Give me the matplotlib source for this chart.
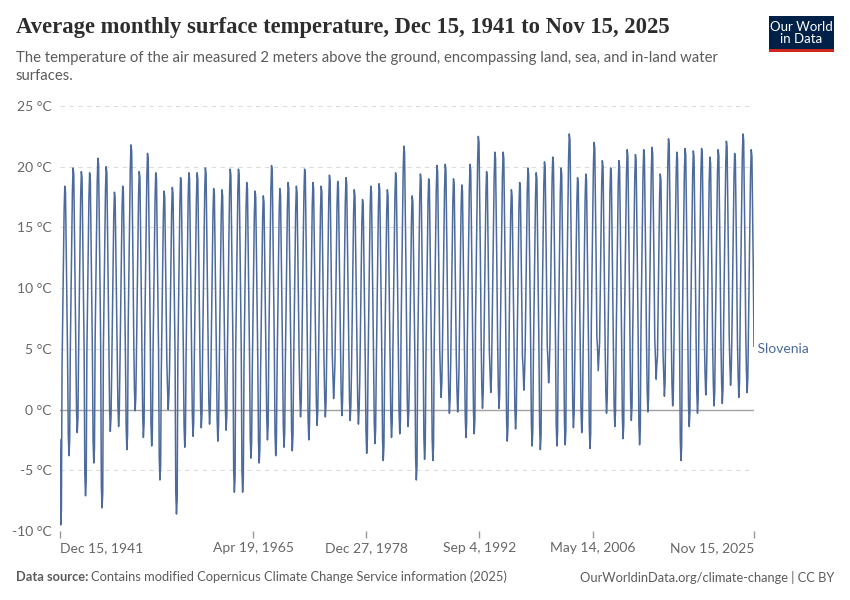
import matplotlib.pyplot as plt
import pandas as pd
from matplotlib.patches import Rectangle

country = 'Slovenia'
first_month = '1941-12-15'

# monthly mean surface temperature (°C), Dec 1941 .. Nov 2025
t_1940s = [
    -2.5,
    -9.5, -8.3, 3.4, 7.9, 12.4, 16.4, 18.4, 17.9, 13.4, 8.4, 4.2, -2.0,
    -3.8, -2.6, 4.9, 9.4, 13.9, 17.9, 19.9, 19.4, 14.9, 9.9, 5.0, -0.1,
    -1.9, -0.7, 4.6, 9.1, 13.6, 17.6, 19.6, 19.1, 14.6, 9.6, 4.8, -5.3,
    -7.1, -5.9, 4.5, 9.0, 13.5, 17.5, 19.5, 19.0, 14.5, 9.5, 4.8, -2.6,
    -4.4, -3.2, 5.7, 10.2, 14.7, 18.7, 20.7, 20.2, 15.7, 10.7, 5.4, -6.3,
    -8.1, -6.9, 5.0, 9.5, 14.0, 18.0, 20.0, 19.5, 15.0, 10.0, 5.0, 0.0,
    -1.8, -0.6, 2.9, 7.4, 11.9, 15.9, 17.9, 17.4, 12.9, 7.9, 4.0, 0.4,
    -1.4, -0.2, 3.4, 7.9, 12.4, 16.4, 18.4, 17.9, 13.4, 8.4, 4.2, -1.5,
]
t_1950s = [
    -3.3, -2.1, 6.8, 11.3, 15.8, 19.8, 21.8, 21.3, 16.8, 11.8, 5.9, 1.7,
    -0.1, 1.1, 4.6, 9.1, 13.6, 17.6, 19.6, 19.1, 14.6, 9.6, 4.8, -0.5,
    -2.3, -1.1, 6.1, 10.6, 15.1, 19.1, 21.1, 20.6, 16.1, 11.1, 5.6, -1.2,
    -3.0, -1.8, 4.5, 9.0, 13.5, 17.5, 19.5, 19.0, 14.5, 9.5, 4.8, -4.0,
    -5.8, -4.6, 3.0, 7.5, 12.0, 16.0, 18.0, 17.5, 13.0, 8.0, 4.0, 1.8,
    0.0, 1.2, 3.3, 7.8, 12.3, 16.3, 18.3, 17.8, 13.3, 8.3, 4.2, -6.8,
    -8.6, -7.4, 4.1, 8.6, 13.1, 17.1, 19.1, 18.6, 14.1, 9.1, 4.6, -1.3,
    -3.1, -1.9, 4.5, 9.0, 13.5, 17.5, 19.5, 19.0, 14.5, 9.5, 4.8, -0.4,
    -2.2, -1.0, 4.5, 9.0, 13.5, 17.5, 19.5, 19.0, 14.5, 9.5, 4.8, 0.3,
    -1.5, -0.3, 4.9, 9.4, 13.9, 17.9, 19.9, 19.4, 14.9, 9.9, 5.0, 0.6,
]
t_1960s = [
    -1.2, 0.0, 3.2, 7.7, 12.2, 16.2, 18.2, 17.7, 13.2, 8.2, 4.1, -0.8,
    -2.6, -1.4, 3.1, 7.6, 12.1, 16.1, 18.1, 17.6, 13.1, 8.1, 4.0, 0.1,
    -1.7, -0.5, 4.8, 9.3, 13.8, 17.8, 19.8, 19.3, 14.8, 9.8, 4.9, -5.0,
    -6.8, -5.6, 4.8, 9.3, 13.8, 17.8, 19.8, 19.3, 14.8, 9.8, 4.9, -5.0,
    -6.8, -5.6, 3.7, 8.2, 12.7, 16.7, 18.7, 18.2, 13.7, 8.7, 4.4, -2.2,
    -4.0, -2.8, 3.0, 7.5, 12.0, 16.0, 18.0, 17.5, 13.0, 8.0, 4.0, -2.6,
    -4.4, -3.2, 2.6, 7.1, 11.6, 15.6, 17.6, 17.1, 12.6, 7.6, 3.8, -0.7,
    -2.5, -1.3, 5.1, 9.6, 14.1, 18.1, 20.1, 19.6, 15.1, 10.1, 5.0, -2.0,
    -3.8, -2.6, 3.2, 7.7, 12.2, 16.2, 18.2, 17.7, 13.2, 8.2, 4.1, -1.3,
    -3.1, -1.9, 3.7, 8.2, 12.7, 16.7, 18.7, 18.2, 13.7, 8.7, 4.4, -1.6,
]
t_1970s = [
    -3.4, -2.2, 3.4, 7.9, 12.4, 16.4, 18.4, 17.9, 13.4, 8.4, 4.2, 1.2,
    -0.6, 0.6, 4.8, 9.3, 13.8, 17.8, 19.8, 19.3, 14.8, 9.8, 4.9, -0.7,
    -2.5, -1.3, 3.7, 8.2, 12.7, 16.7, 18.7, 18.2, 13.7, 8.7, 4.4, 0.5,
    -1.3, -0.1, 3.4, 7.9, 12.4, 16.4, 18.4, 17.9, 13.4, 8.4, 4.2, 1.2,
    -0.6, 0.6, 4.3, 8.8, 13.3, 17.3, 19.3, 18.8, 14.3, 9.3, 4.7, 2.7,
    0.9, 2.1, 3.8, 8.3, 12.8, 16.8, 18.8, 18.3, 13.8, 8.8, 4.4, 1.3,
    -0.5, 0.7, 4.1, 8.6, 13.1, 17.1, 19.1, 18.6, 14.1, 9.1, 4.6, 0.9,
    -0.9, 0.3, 3.1, 7.6, 12.1, 16.1, 18.1, 17.6, 13.1, 8.1, 4.0, 0.6,
    -1.2, 0.0, 2.3, 6.8, 11.3, 15.3, 17.3, 16.8, 12.3, 7.3, 3.6, -1.8,
    -3.6, -2.4, 3.4, 7.9, 12.4, 16.4, 18.4, 17.9, 13.4, 8.4, 4.2, -1.0,
]
t_1980s = [
    -2.8, -1.6, 3.6, 8.1, 12.6, 16.6, 18.6, 18.1, 13.6, 8.6, 4.3, -2.4,
    -4.2, -3.0, 3.1, 7.6, 12.1, 16.1, 18.1, 17.6, 13.1, 8.1, 4.0, -0.5,
    -2.3, -1.1, 4.5, 9.0, 13.5, 17.5, 19.5, 19.0, 14.5, 9.5, 4.8, -0.2,
    -2.0, -0.8, 6.7, 11.2, 15.7, 19.7, 21.7, 21.2, 16.7, 11.7, 5.9, 0.4,
    -1.4, -0.2, 2.6, 7.1, 11.6, 15.6, 17.6, 17.1, 12.6, 7.6, 3.8, -4.0,
    -5.8, -4.6, 4.4, 8.9, 13.4, 17.4, 19.4, 18.9, 14.4, 9.4, 4.7, -2.3,
    -4.1, -2.9, 4.0, 8.5, 13.0, 17.0, 19.0, 18.5, 14.0, 9.0, 4.5, -2.4,
    -4.2, -3.0, 5.1, 9.6, 14.1, 18.1, 20.1, 19.6, 15.1, 10.1, 5.0, 2.8,
    1.0, 2.2, 5.2, 9.7, 14.2, 18.2, 20.2, 19.7, 15.2, 10.2, 5.1, 1.5,
    -0.3, 0.9, 4.0, 8.5, 13.0, 17.0, 19.0, 18.5, 14.0, 9.0, 4.5, 1.6,
]
t_1990s = [
    -0.2, 1.0, 3.5, 8.0, 12.5, 16.5, 18.5, 18.0, 13.5, 8.5, 4.3, -0.5,
    -2.3, -1.1, 5.2, 9.7, 14.2, 18.2, 20.2, 19.7, 15.2, 10.2, 5.1, -0.2,
    -2.0, -0.8, 7.5, 12.0, 16.5, 20.5, 22.5, 22.0, 17.5, 12.5, 6.3, 1.9,
    0.1, 1.3, 4.6, 9.1, 13.6, 17.6, 19.6, 19.1, 14.6, 9.6, 4.8, 3.2,
    1.4, 2.6, 6.2, 10.7, 15.2, 19.2, 21.2, 20.7, 16.2, 11.2, 5.6, 1.9,
    0.1, 1.3, 6.2, 10.7, 15.2, 19.2, 21.2, 20.7, 16.2, 11.2, 5.6, -0.8,
    -2.6, -1.4, 3.1, 7.6, 12.1, 16.1, 18.1, 17.6, 13.1, 8.1, 4.0, 0.2,
    -1.6, -0.4, 3.7, 8.2, 12.7, 16.7, 18.7, 18.2, 13.7, 8.7, 4.4, 3.4,
    1.6, 2.8, 4.9, 9.4, 13.9, 17.9, 19.9, 19.4, 14.9, 9.9, 5.0, -1.2,
    -3.0, -1.8, 4.5, 9.0, 13.5, 17.5, 19.5, 19.0, 14.5, 9.5, 4.8, -1.5,
]
t_2000s = [
    -3.3, -2.1, 5.4, 9.9, 14.4, 18.4, 20.4, 19.9, 15.4, 10.4, 5.2, 4.0,
    2.2, 3.4, 5.8, 10.3, 14.8, 18.8, 20.8, 20.3, 15.8, 10.8, 5.4, -1.2,
    -3.0, -1.8, 4.9, 9.4, 13.9, 17.9, 19.9, 19.4, 14.9, 9.9, 5.0, -1.1,
    -2.9, -1.7, 7.7, 12.2, 16.7, 20.7, 22.7, 22.2, 17.7, 12.7, 6.4, 0.3,
    -1.5, -0.3, 4.1, 8.6, 13.1, 17.1, 19.1, 18.6, 14.1, 9.1, 4.6, -0.1,
    -1.9, -0.7, 4.4, 8.9, 13.4, 17.4, 19.4, 18.9, 14.4, 9.4, 4.7, -1.4,
    -3.2, -2.0, 7.0, 11.5, 16.0, 20.0, 22.0, 21.5, 17.0, 12.0, 6.0, 5.0,
    3.2, 4.4, 5.5, 10.0, 14.5, 18.5, 20.5, 20.0, 15.5, 10.5, 5.3, 1.5,
    -0.3, 0.9, 4.9, 9.4, 13.9, 17.9, 19.9, 19.4, 14.9, 9.9, 5.0, 0.4,
    -1.4, -0.2, 5.5, 10.0, 14.5, 18.5, 20.5, 20.0, 15.5, 10.5, 5.3, -0.6,
]
t_2010s = [
    -2.4, -1.2, 6.4, 10.9, 15.4, 19.4, 21.4, 20.9, 16.4, 11.4, 5.7, 0.9,
    -0.9, 0.3, 6.0, 10.5, 15.0, 19.0, 21.0, 20.5, 16.0, 11.0, 5.5, -1.1,
    -2.9, -1.7, 6.4, 10.9, 15.4, 19.4, 21.4, 20.9, 16.4, 11.4, 5.7, 1.6,
    -0.2, 1.0, 6.6, 11.1, 15.6, 19.6, 21.6, 21.1, 16.6, 11.6, 5.8, 4.3,
    2.5, 3.7, 4.4, 8.9, 13.4, 17.4, 19.4, 18.9, 14.4, 9.4, 4.7, 2.9,
    1.1, 2.3, 7.3, 11.8, 16.3, 20.3, 22.3, 21.8, 17.3, 12.3, 6.2, 2.1,
    0.3, 1.5, 6.2, 10.7, 15.2, 19.2, 21.2, 20.7, 16.2, 11.2, 5.6, -2.4,
    -4.2, -3.0, 6.5, 11.0, 15.5, 19.5, 21.5, 21.0, 16.5, 11.5, 5.8, 0.4,
    -1.4, -0.2, 6.3, 10.8, 15.3, 19.3, 21.3, 20.8, 16.3, 11.3, 5.7, 1.5,
    -0.3, 0.9, 6.5, 11.0, 15.5, 19.5, 21.5, 21.0, 16.5, 11.5, 5.8, 3.0,
]
t_2020s = [
    1.2, 2.4, 5.8, 10.3, 14.8, 18.8, 20.8, 20.3, 15.8, 10.8, 5.4, 2.1,
    0.3, 1.5, 6.4, 10.9, 15.4, 19.4, 21.4, 20.9, 16.4, 11.4, 5.7, 2.3,
    0.5, 1.7, 7.1, 11.6, 16.1, 20.1, 22.1, 21.6, 17.1, 12.1, 6.1, 3.8,
    2.0, 3.2, 6.1, 10.6, 15.1, 19.1, 21.1, 20.6, 16.1, 11.1, 5.6, 2.8,
    1.0, 2.2, 7.7, 12.2, 16.7, 20.7, 22.7, 22.2, 17.7, 12.7, 6.4, 3.2,
    1.4, 2.6, 6.4, 10.9, 15.4, 19.4, 21.4, 20.9, 16.4, 11.4, 5.2,
]

y_ticks = [-10, -5, 0, 5, 10, 15, 20, 25]
x_tick_dates = ['1941-12-15', '1965-04-19', '1978-12-27', '1992-09-04', '2006-05-14', '2025-11-15']
x_tick_labels = ['Dec 15, 1941', 'Apr 19, 1965', 'Dec 27, 1978', 'Sep 4, 1992', 'May 14, 2006', 'Nov 15, 2025']

temps = t_1940s + t_1950s + t_1960s + t_1970s + t_1980s + t_1990s + t_2000s + t_2010s + t_2020s
dates = pd.date_range(first_month, periods=len(temps), freq=pd.DateOffset(months=1))

W, H = 850, 600
blue = '#4c6a9c'
grey = '#5b5b5b'

fig = plt.figure(figsize=(8.5, 6), dpi=100)
ax = fig.add_axes([60 / W, 1 - 531 / H, (754 - 60) / W, (531 - 106) / H])

ax.plot(dates, temps, color=blue, lw=1.1, zorder=3)
ax.axhline(0, color='#a2a2a2', lw=1, zorder=2)

ax.set_ylim(-10, 25)
ax.set_xlim(dates[0], dates[-1])
ax.set_yticks(y_ticks)
ax.set_yticklabels([f'{v} °C' for v in y_ticks], fontfamily='Lato', fontsize=10, color='#666666')
ax.grid(axis='y', color='#dddddd', lw=0.8, linestyle=(0, (4, 4)))
ax.tick_params(axis='y', length=0, pad=6)

ax.set_xticks(pd.to_datetime(x_tick_dates))
ax.set_xticklabels(x_tick_labels, fontfamily='Lato', fontsize=10, color='#666666')
ax.tick_params(axis='x', length=5, color='#999999', width=1, pad=3)
lbls = ax.get_xticklabels()
lbls[0].set_ha('left')
lbls[-1].set_ha('right')

for s in ax.spines.values():
    s.set_visible(False)

ax.text(dates[-1], temps[-1] - 0.2, ' ' + country, color=blue, fontfamily='Lato',
        fontsize=10, va='center', ha='left', clip_on=False)

fig.text(16 / W, 1 - 28 / H, 'Average monthly surface temperature, Dec 15, 1941 to Nov 15, 2025',
         fontfamily='Liberation Serif', fontweight='bold', fontsize=16.3, color='#2d2d2d', va='center')
fig.text(16 / W, 1 - 67 / H,
         'The temperature of the air measured 2 meters above the ground, encompassing land, sea, and in-land water\nsurfaces.',
         fontfamily='Lato', fontsize=10.7, color=grey, va='center', linespacing=1.35)

# logo
fig.patches.append(Rectangle((769 / W, 1 - 52 / H), 65 / W, 36 / H, transform=fig.transFigure,
                             facecolor='#002147', edgecolor='none'))
fig.patches.append(Rectangle((769 / W, 1 - 52 / H), 65 / W, 3 / H, transform=fig.transFigure,
                             facecolor='#ce261e', edgecolor='none'))
fig.text(801.5 / W, 1 - 33 / H, 'Our World\nin Data', fontfamily='Lato', fontsize=9.5,
         color='white', ha='center', va='center', linespacing=0.95)

fig.text(16 / W, 1 - 577 / H, 'Data source:', fontfamily='Lato', fontweight='bold',
         fontsize=9.3, color=grey, va='center')
fig.text(91 / W, 1 - 577 / H, 'Contains modified Copernicus Climate Change Service information (2025)',
         fontfamily='Lato', fontsize=9.3, color=grey, va='center')
fig.text(834 / W, 1 - 577 / H, 'OurWorldinData.org/climate-change | CC BY',
         fontfamily='Lato', fontsize=9.3, color=grey, va='center', ha='right')

fig.savefig('out.png', dpi=100)
